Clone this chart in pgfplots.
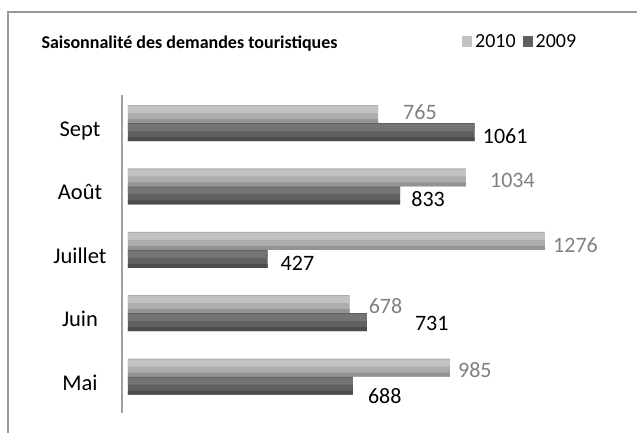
\documentclass[border=0pt]{standalone}
\usepackage{pgfplots}
\usepackage{pgfplotstable}
\pgfplotsset{compat=1.18}
\usepackage{fontspec}
\setmainfont{Carlito}

\definecolor{bar10}{HTML}{ADADAD}
\definecolor{bar10hi}{HTML}{C2C2C2}
\definecolor{bar10lo}{HTML}{939393}
\definecolor{bar09}{HTML}{606060}
\definecolor{bar09hi}{HTML}{747474}
\definecolor{bar09lo}{HTML}{4C4C4C}
\definecolor{lab10}{HTML}{808080}
\definecolor{framegray}{HTML}{999999}
\definecolor{axisgray}{HTML}{A0A0A0}

% y: 0=Mai ... 4=Sept ; dx/dy = decalage des etiquettes (pt)
\pgfplotstableread{
y v10 dx10 dy10 v09 dx09 dy09
0 985 8 6 688 15 -20
1 678 19 7 731 48 -10
2 1276 8 5 427 13 -13.5
3 1034 24 6 833 11 -12.5
4 765 25 11 1061 8 -13
}\saison

\begin{document}
\begin{tikzpicture}
\useasboundingbox (0,0) rectangle (637pt,432pt);
\begin{axis}[
    at={(122pt,19pt)}, anchor=south west,
    scale only axis,
    width=506pt, height=318pt,
    xmin=-18.35, xmax=1530,
    ymin=-0.576, ymax=4.442,
    axis x line=none,
    axis y line*=left,
    y axis line style={draw=axisgray, line width=1.2pt},
    xtick=\empty,
    ytick={0,...,4},
    yticklabels={Mai,Juin,Juillet,Août,Sept},
    major tick length=0pt,
    yticklabel style={anchor=base, xshift=-42pt, yshift=-13.5pt,
        font=\fontsize{22.5}{27}\selectfont},
    /pgf/number format/assume math mode=true,
    /pgf/number format/1000 sep={},
    legend columns=2,
    legend image code/.code={\path[draw=none, fill=none] (-7pt,0pt) -- (13pt,0pt);
        \fill[#1, draw=none] (0pt,-5.5pt) rectangle (10pt,5.5pt);},
    legend style={at={(0.658,1.167)}, anchor=west, draw=none, fill=none,
        inner sep=0pt, font=\fontsize{20}{24}\selectfont,
        nodes={inner sep=0pt}, column sep=0pt},
]
% 2010
\addplot[forget plot, xbar, bar width=18pt, bar shift=9pt, fill=bar10, draw=none,
    point meta=x, nodes near coords,
    visualization depends on={\thisrow{dx10} \as \dx},
    visualization depends on={\thisrow{dy10} \as \dy},
    every node near coord/.append style={anchor=west, inner sep=0pt,
        xshift=\dx pt, yshift=\dy pt, text=lab10,
        font=\fontsize{22}{26}\selectfont}]
    table[x=v10, y=y] {\saison};
\addplot[forget plot, xbar, bar width=7pt, bar shift=13.5pt, fill=bar10hi, draw=none]
    table[x=v10, y=y] {\saison};
\addplot[forget plot, xbar, bar width=4pt, bar shift=2pt, fill=bar10lo, draw=none]
    table[x=v10, y=y] {\saison};
% 2009
\addplot[forget plot, xbar, bar width=18pt, bar shift=-9pt, fill=bar09, draw=none,
    point meta=x, nodes near coords,
    visualization depends on={\thisrow{dx09} \as \dx},
    visualization depends on={\thisrow{dy09} \as \dy},
    every node near coord/.append style={anchor=west, inner sep=0pt,
        xshift=\dx pt, yshift=\dy pt, text=black,
        font=\fontsize{22}{26}\selectfont}]
    table[x=v09, y=y] {\saison};
\addplot[forget plot, xbar, bar width=7pt, bar shift=-4.5pt, fill=bar09hi, draw=none]
    table[x=v09, y=y] {\saison};
\addplot[forget plot, xbar, bar width=4pt, bar shift=-16pt, fill=bar09lo, draw=none]
    table[x=v09, y=y] {\saison};

\addlegendimage{fill=bar10hi}
\addlegendentry{2010}
\addlegendimage{fill=bar09}
\addlegendentry{2009}
\end{axis}
\node[anchor=base west, font=\bfseries\fontsize{18}{22}\selectfont]
    at (38pt,383pt) {Saisonnalité des demandes touristiques};
\draw[framegray, line width=2pt] (8pt,-5pt) -- (8pt,420pt) -- (645pt,420pt);
\end{tikzpicture}
\end{document}
